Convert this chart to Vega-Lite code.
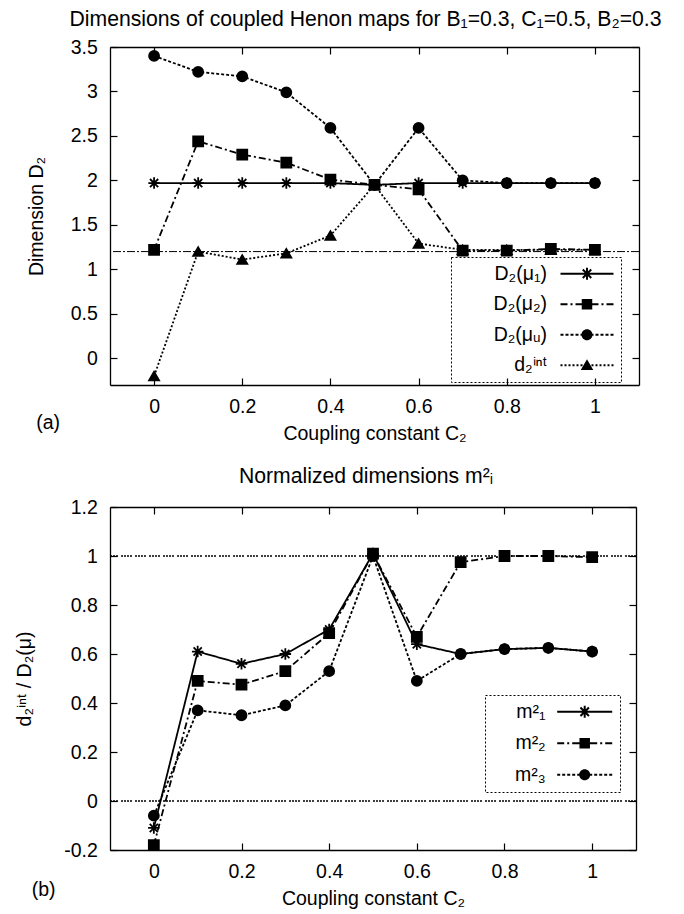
{
  "$schema": "https://vega.github.io/schema/vega-lite/v6.json",
  "padding": {"left": 14, "top": 8, "right": 5, "bottom": 5},
  "spacing": 22,
  "datasets": {
    "a": [
      {"c": 0, "s": "D₂(μ₁)", "v": 1.97}, {"c": 0.1, "s": "D₂(μ₁)", "v": 1.97}, {"c": 0.2, "s": "D₂(μ₁)", "v": 1.97}, {"c": 0.3, "s": "D₂(μ₁)", "v": 1.97}, {"c": 0.4, "s": "D₂(μ₁)", "v": 1.97}, {"c": 0.5, "s": "D₂(μ₁)", "v": 1.95}, {"c": 0.6, "s": "D₂(μ₁)", "v": 1.97}, {"c": 0.7, "s": "D₂(μ₁)", "v": 1.97}, {"c": 0.8, "s": "D₂(μ₁)", "v": 1.97}, {"c": 0.9, "s": "D₂(μ₁)", "v": 1.97}, {"c": 1.0, "s": "D₂(μ₁)", "v": 1.97},
      {"c": 0, "s": "D₂(μ₂)", "v": 1.22}, {"c": 0.1, "s": "D₂(μ₂)", "v": 2.44}, {"c": 0.2, "s": "D₂(μ₂)", "v": 2.29}, {"c": 0.3, "s": "D₂(μ₂)", "v": 2.2}, {"c": 0.4, "s": "D₂(μ₂)", "v": 2.01}, {"c": 0.5, "s": "D₂(μ₂)", "v": 1.95}, {"c": 0.6, "s": "D₂(μ₂)", "v": 1.9}, {"c": 0.7, "s": "D₂(μ₂)", "v": 1.21}, {"c": 0.8, "s": "D₂(μ₂)", "v": 1.21}, {"c": 0.9, "s": "D₂(μ₂)", "v": 1.23}, {"c": 1.0, "s": "D₂(μ₂)", "v": 1.22},
      {"c": 0, "s": "D₂(μᵤ)", "v": 3.4}, {"c": 0.1, "s": "D₂(μᵤ)", "v": 3.22}, {"c": 0.2, "s": "D₂(μᵤ)", "v": 3.17}, {"c": 0.3, "s": "D₂(μᵤ)", "v": 2.99}, {"c": 0.4, "s": "D₂(μᵤ)", "v": 2.59}, {"c": 0.5, "s": "D₂(μᵤ)", "v": 1.95}, {"c": 0.6, "s": "D₂(μᵤ)", "v": 2.59}, {"c": 0.7, "s": "D₂(μᵤ)", "v": 2.0}, {"c": 0.8, "s": "D₂(μᵤ)", "v": 1.97}, {"c": 0.9, "s": "D₂(μᵤ)", "v": 1.97}, {"c": 1.0, "s": "D₂(μᵤ)", "v": 1.97},
      {"c": 0, "s": "d₂ⁱⁿᵗ", "v": -0.2}, {"c": 0.1, "s": "d₂ⁱⁿᵗ", "v": 1.2}, {"c": 0.2, "s": "d₂ⁱⁿᵗ", "v": 1.11}, {"c": 0.3, "s": "d₂ⁱⁿᵗ", "v": 1.18}, {"c": 0.4, "s": "d₂ⁱⁿᵗ", "v": 1.38}, {"c": 0.5, "s": "d₂ⁱⁿᵗ", "v": 1.95}, {"c": 0.6, "s": "d₂ⁱⁿᵗ", "v": 1.29}, {"c": 0.7, "s": "d₂ⁱⁿᵗ", "v": 1.22}, {"c": 0.8, "s": "d₂ⁱⁿᵗ", "v": 1.22}, {"c": 0.9, "s": "d₂ⁱⁿᵗ", "v": 1.22}, {"c": 1.0, "s": "d₂ⁱⁿᵗ", "v": 1.22}
    ],
    "b": [
      {"c": 0, "s": "m²₁", "v": -0.11}, {"c": 0.1, "s": "m²₁", "v": 0.61}, {"c": 0.2, "s": "m²₁", "v": 0.56}, {"c": 0.3, "s": "m²₁", "v": 0.6}, {"c": 0.4, "s": "m²₁", "v": 0.7}, {"c": 0.5, "s": "m²₁", "v": 1.01}, {"c": 0.6, "s": "m²₁", "v": 0.64}, {"c": 0.7, "s": "m²₁", "v": 0.6}, {"c": 0.8, "s": "m²₁", "v": 0.62}, {"c": 0.9, "s": "m²₁", "v": 0.625}, {"c": 1.0, "s": "m²₁", "v": 0.61},
      {"c": 0, "s": "m²₂", "v": -0.18}, {"c": 0.1, "s": "m²₂", "v": 0.49}, {"c": 0.2, "s": "m²₂", "v": 0.475}, {"c": 0.3, "s": "m²₂", "v": 0.53}, {"c": 0.4, "s": "m²₂", "v": 0.685}, {"c": 0.5, "s": "m²₂", "v": 1.01}, {"c": 0.6, "s": "m²₂", "v": 0.67}, {"c": 0.7, "s": "m²₂", "v": 0.975}, {"c": 0.8, "s": "m²₂", "v": 1.0}, {"c": 0.9, "s": "m²₂", "v": 1.0}, {"c": 1.0, "s": "m²₂", "v": 0.995},
      {"c": 0, "s": "m²₃", "v": -0.06}, {"c": 0.1, "s": "m²₃", "v": 0.37}, {"c": 0.2, "s": "m²₃", "v": 0.35}, {"c": 0.3, "s": "m²₃", "v": 0.39}, {"c": 0.4, "s": "m²₃", "v": 0.53}, {"c": 0.5, "s": "m²₃", "v": 1.0}, {"c": 0.6, "s": "m²₃", "v": 0.49}, {"c": 0.7, "s": "m²₃", "v": 0.6}, {"c": 0.8, "s": "m²₃", "v": 0.62}, {"c": 0.9, "s": "m²₃", "v": 0.625}, {"c": 1.0, "s": "m²₃", "v": 0.61}
    ],
    "ra": [{"ref": 1.2}],
    "rb": [{"ref": 0}, {"ref": 1}]
  },
  "config": {
    "font": "Liberation Sans",
    "view": {"stroke": null},
    "axis": {"domainColor": "black", "domainWidth": 1.3, "tickColor": "black", "tickWidth": 1.2, "tickSize": -7, "labelFont": "Liberation Sans", "labelFontSize": 19.5, "labelColor": "black", "labelPadding": 19.7, "labelFlush": false, "labelOverlap": false, "titleFont": "Liberation Sans", "titleFontSize": 19.5, "titleFontWeight": "normal", "titleColor": "black", "grid": false},
    "title": {"font": "Liberation Sans", "fontSize": 21.2, "fontWeight": "normal", "color": "black"},
    "legend": {"labelFont": "Liberation Sans", "labelFontSize": 19.5, "labelColor": "black", "labelLimit": 300, "labelAlign": "right", "symbolSize": 100, "symbolStrokeWidth": 0, "symbolFillColor": "black", "padding": 7, "rowPadding": 10.5, "title": null, "strokeColor": "black", "strokeDash": [2, 2]}
  },
  "resolve": {"scale": {"x": "independent", "y": "independent", "shape": "independent", "strokeDash": "independent"}},
  "vconcat": [
    {
      "title": {"text": "(a)", "orient": "bottom", "anchor": "start", "frame": "bounds", "dy": -29, "dx": 10, "fontSize": 19.5, "offset": 0},
      "vconcat": [
        {
          "width": 529,
          "height": 338,
          "title": {"text": "Dimensions of coupled Henon maps for B₁=0.3, C₁=0.5, B₂=0.3", "offset": 7, "dx": -9},
          "resolve": {"scale": {"shape": "independent", "strokeDash": "independent"}, "axis": {"x": "independent", "y": "independent"}},
          "layer": [
            {
              "data": {"name": "ra"},
              "mark": {"type": "rule", "color": "black", "strokeWidth": 1, "strokeDash": [8, 2, 2, 2]},
              "encoding": {
                "y": {"field": "ref", "type": "quantitative", "scale": {"domain": [-0.3, 3.5], "nice": false, "zero": false}, "axis": {"orient": "right", "values": [0, 0.5, 1, 1.5, 2, 2.5, 3, 3.5], "labels": false, "title": null}}
              }
            },
            {
              "data": {"name": "a"},
              "mark": {"type": "line", "color": "black", "strokeWidth": 1.8},
              "encoding": {
                "x": {"field": "c", "type": "quantitative", "scale": {"domain": [-0.1, 1.1], "nice": false, "zero": false}, "axis": {"orient": "bottom", "values": [0, 0.2, 0.4, 0.6, 0.8, 1], "format": "~g", "title": "Coupling constant C₂", "titlePadding": 8}},
                "y": {"field": "v", "type": "quantitative", "scale": {"domain": [-0.3, 3.5], "nice": false, "zero": false}, "axis": {"orient": "left", "values": [0, 0.5, 1, 1.5, 2, 2.5, 3, 3.5], "format": "~g", "title": "Dimension D₂", "titlePadding": 24}},
                "strokeDash": {"field": "s", "type": "nominal", "scale": {"domain": ["D₂(μ₁)", "D₂(μ₂)", "D₂(μᵤ)", "d₂ⁱⁿᵗ"], "range": [[1, 0], [7, 3, 2, 3], [3, 2], [2, 2]]}, "legend": null}
              }
            },
            {
              "data": {"name": "a"},
              "mark": {"type": "point", "filled": true, "size": 100, "color": "black", "stroke": "black", "strokeWidth": 1.8, "opacity": 1},
              "encoding": {
                "x": {"field": "c", "type": "quantitative", "scale": {"domain": [-0.1, 1.1], "nice": false, "zero": false}, "axis": {"orient": "top", "values": [0, 0.2, 0.4, 0.6, 0.8, 1], "labels": false, "title": null}},
                "y": {"field": "v", "type": "quantitative", "scale": {"domain": [-0.3, 3.5], "nice": false, "zero": false}, "axis": null},
                "shape": {"field": "s", "type": "nominal", "scale": {"domain": ["D₂(μ₁)", "D₂(μ₂)", "D₂(μᵤ)", "d₂ⁱⁿᵗ"], "range": ["M-1.15,0H1.15M0,-1.15V1.15M-0.82,-0.82L0.82,0.82M-0.82,0.82L0.82,-0.82", "square", "circle", "triangle-up"]}, "legend": null}
              }
            },
            {
              "data": {"name": "a"},
              "mark": {"type": "point", "filled": true, "size": 100, "color": "black", "opacity": 0},
              "encoding": {
                "x": {"field": "c", "type": "quantitative", "scale": {"domain": [-0.1, 1.1], "nice": false, "zero": false}, "axis": null},
                "y": {"field": "v", "type": "quantitative", "scale": {"domain": [-0.3, 3.5], "nice": false, "zero": false}, "axis": null},
                "shape": {"field": "s", "type": "nominal", "scale": {"domain": ["D₂(μ₁)", "D₂(μ₂)", "D₂(μᵤ)", "d₂ⁱⁿᵗ"], "range": [
                  "M-5.3,-0.18H5.3V0.18H-5.3ZM-1.2,-0.2H1.2V0.2H-1.2ZM-0.2,-1.2H0.2V1.2H-0.2ZM-0.709,-0.991L0.991,0.709L0.709,0.991L-0.991,-0.709ZM-0.709,0.991L-0.991,0.709L0.709,-0.991L0.991,-0.709Z",
                  "M-5.3,-0.18H-3.9V0.18H-5.3ZM-3.3,-0.18H-2.9V0.18H-3.3ZM-2.3,-0.18H-0.9V0.18H-2.3ZM0.9,-0.18H2.3V0.18H0.9ZM2.9,-0.18H3.3V0.18H2.9ZM3.9,-0.18H5.3V0.18H3.9ZM-1.05,-1.05H1.05V1.05H-1.05Z",
                  "M-5.3,-0.18H-4.7V0.18H-5.3ZM-4.3,-0.18H-3.7V0.18H-4.3ZM-3.3,-0.18H-2.7V0.18H-3.3ZM-2.3,-0.18H-1.7V0.18H-2.3ZM-1.3,-0.18H-0.7V0.18H-1.3ZM0.7,-0.18H1.3V0.18H0.7ZM1.7,-0.18H2.3V0.18H1.7ZM2.7,-0.18H3.3V0.18H2.7ZM3.7,-0.18H4.3V0.18H3.7ZM4.7,-0.18H5.3V0.18H4.7ZM1.1,0A1.1,1.1,0,1,1,-1.1,0A1.1,1.1,0,1,1,1.1,0Z",
                  "M-5.3,-0.18H-4.9V0.18H-5.3ZM-4.5,-0.18H-4.1V0.18H-4.5ZM-3.7,-0.18H-3.3V0.18H-3.7ZM-2.9,-0.18H-2.5V0.18H-2.9ZM-2.1,-0.18H-1.7V0.18H-2.1ZM-1.3,-0.18H-0.9V0.18H-1.3ZM0.9,-0.18H1.3V0.18H0.9ZM1.7,-0.18H2.1V0.18H1.7ZM2.5,-0.18H2.9V0.18H2.5ZM3.3,-0.18H3.7V0.18H3.3ZM4.1,-0.18H4.5V0.18H4.1ZM4.9,-0.18H5.3V0.18H4.9ZM0,-1.2L1.25,0.95H-1.25Z"
                ]},
                  "legend": {"orient": "none", "legendX": 341, "legendY": 210, "rowPadding": 9.5, "labelAlign": "right", "labelOffset": -49.75, "symbolOffset": 119.25, "strokeColor": "black", "encode": {"symbols": {"fill": {"value": "black"}, "strokeWidth": {"value": 0}, "opacity": {"value": 1}}}}}
              }
            }
          ]
        }
      ]
    },
    {
      "title": {"text": "(b)", "orient": "bottom", "anchor": "start", "frame": "bounds", "dy": -27, "dx": 17, "fontSize": 19.5, "offset": 0},
      "vconcat": [
        {
          "width": 526,
          "height": 343,
          "title": {"text": "Normalized dimensions m²ᵢ", "offset": 10, "dx": -7},
          "resolve": {"scale": {"shape": "independent", "strokeDash": "independent"}, "axis": {"x": "independent", "y": "independent"}},
          "layer": [
            {
              "data": {"name": "rb"},
              "mark": {"type": "rule", "color": "black", "strokeWidth": 1.5, "strokeDash": [2, 1, 2, 1, 2, 1, 2, 3]},
              "encoding": {
                "y": {"field": "ref", "type": "quantitative", "scale": {"domain": [-0.2, 1.2], "nice": false, "zero": false}, "axis": {"orient": "right", "values": [-0.2, 0, 0.2, 0.4, 0.6, 0.8, 1, 1.2], "labels": false, "title": null}}
              }
            },
            {
              "data": {"name": "b"},
              "mark": {"type": "line", "color": "black", "strokeWidth": 1.8},
              "encoding": {
                "x": {"field": "c", "type": "quantitative", "scale": {"domain": [-0.1, 1.1], "nice": false, "zero": false}, "axis": {"orient": "bottom", "values": [0, 0.2, 0.4, 0.6, 0.8, 1], "format": "~g", "title": "Coupling constant C₂", "titlePadding": 8}},
                "y": {"field": "v", "type": "quantitative", "scale": {"domain": [-0.2, 1.2], "nice": false, "zero": false}, "axis": {"orient": "left", "values": [-0.2, 0, 0.2, 0.4, 0.6, 0.8, 1, 1.2], "format": "~g", "labelExpr": "replace(datum.label, '−', '-')", "title": "d₂ⁱⁿᵗ / D₂(μ)", "titlePadding": 29}},
                "strokeDash": {"field": "s", "type": "nominal", "scale": {"domain": ["m²₁", "m²₂", "m²₃"], "range": [[1, 0], [7, 3, 2, 3], [3, 2]]}, "legend": null}
              }
            },
            {
              "data": {"name": "b"},
              "mark": {"type": "point", "filled": true, "size": 100, "color": "black", "stroke": "black", "strokeWidth": 1.8, "opacity": 1},
              "encoding": {
                "x": {"field": "c", "type": "quantitative", "scale": {"domain": [-0.1, 1.1], "nice": false, "zero": false}, "axis": {"orient": "top", "values": [0, 0.2, 0.4, 0.6, 0.8, 1], "labels": false, "title": null}},
                "y": {"field": "v", "type": "quantitative", "scale": {"domain": [-0.2, 1.2], "nice": false, "zero": false}, "axis": null},
                "shape": {"field": "s", "type": "nominal", "scale": {"domain": ["m²₁", "m²₂", "m²₃"], "range": ["M-1.15,0H1.15M0,-1.15V1.15M-0.82,-0.82L0.82,0.82M-0.82,0.82L0.82,-0.82", "square", "circle"]}, "legend": null}
              }
            },
            {
              "data": {"name": "b"},
              "mark": {"type": "point", "filled": true, "size": 100, "color": "black", "opacity": 0},
              "encoding": {
                "x": {"field": "c", "type": "quantitative", "scale": {"domain": [-0.1, 1.1], "nice": false, "zero": false}, "axis": null},
                "y": {"field": "v", "type": "quantitative", "scale": {"domain": [-0.2, 1.2], "nice": false, "zero": false}, "axis": null},
                "shape": {"field": "s", "type": "nominal", "scale": {"domain": ["m²₁", "m²₂", "m²₃"], "range": [
                  "M-5.5,-0.18H5.5V0.18H-5.5ZM-1.2,-0.2H1.2V0.2H-1.2ZM-0.2,-1.2H0.2V1.2H-0.2ZM-0.709,-0.991L0.991,0.709L0.709,0.991L-0.991,-0.709ZM-0.709,0.991L-0.991,0.709L0.709,-0.991L0.991,-0.709Z",
                  "M-5.5,-0.18H-4.1V0.18H-5.5ZM-3.5,-0.18H-3.1V0.18H-3.5ZM-2.5,-0.18H-0.9V0.18H-2.5ZM0.9,-0.18H2.5V0.18H0.9ZM3.1,-0.18H3.5V0.18H3.1ZM4.1,-0.18H5.5V0.18H4.1ZM-1.05,-1.05H1.05V1.05H-1.05Z",
                  "M-5.5,-0.18H-4.9V0.18H-5.5ZM-4.5,-0.18H-3.9V0.18H-4.5ZM-3.5,-0.18H-2.9V0.18H-3.5ZM-2.5,-0.18H-1.9V0.18H-2.5ZM-1.5,-0.18H-0.9V0.18H-1.5ZM0.9,-0.18H1.5V0.18H0.9ZM1.9,-0.18H2.5V0.18H1.9ZM2.9,-0.18H3.5V0.18H2.9ZM3.9,-0.18H4.5V0.18H3.9ZM4.9,-0.18H5.5V0.18H4.9ZM1.1,0A1.1,1.1,0,1,1,-1.1,0A1.1,1.1,0,1,1,1.1,0Z"
                ]},
                  "legend": {"orient": "none", "legendX": 375, "legendY": 188, "labelAlign": "right", "labelOffset": -48.75, "symbolOffset": 82.95, "strokeColor": "black", "encode": {"symbols": {"fill": {"value": "black"}, "strokeWidth": {"value": 0}, "opacity": {"value": 1}}}}}
              }
            }
          ]
        }
      ]
    }
  ]
}
